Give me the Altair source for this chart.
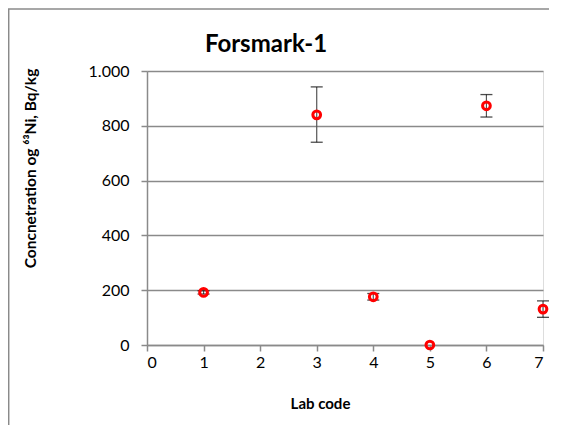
import altair as alt
import pandas as pd

labs = [1, 3, 4, 5, 6, 7]
values = [192, 840, 176, 0, 873, 131]
err_low = [186, 740, 164, 0, 832, 101]
err_high = [198, 942, 188, 0, 914, 161]

x_ticks = [0, 1, 2, 3, 4, 5, 6, 7]
y_ticks = [0, 200, 400, 600, 800, 1000]

df = pd.DataFrame({"lab": labs, "value": values, "lo": err_low, "hi": err_high})

FONT = "Lato"
GRID = "#8a8a8a"
W, H = 396, 274

xscale = alt.Scale(domain=[0, 7], nice=False, zero=False)
yscale = alt.Scale(domain=[0, 1000], nice=False)

xaxis = alt.Axis(values=x_ticks, format="d", title="Lab code", grid=False, domainColor=GRID,
                 domainWidth=1.5, tickColor=GRID, tickWidth=1.5, tickSize=6,
                 labelFont=FONT, labelFontSize=16, labelColor="black", labelPadding=3,
                 titleFont=FONT, titleFontSize=15, titleFontWeight="bold",
                 titleColor="black", titleX=173, titleY=58, titleAlign="center",
                 titleBaseline="middle")
yaxis = alt.Axis(values=y_ticks, title="Concnetration og ⁶³Ni, Bq/kg",
                 labelExpr="datum.value == 1000 ? '1.000' : datum.label",
                 grid=True, gridColor=GRID, gridWidth=1.5, domainColor=GRID,
                 domainWidth=1.5, tickColor=GRID, tickWidth=1.5, tickSize=6,
                 labelFont=FONT, labelFontSize=16, labelColor="black", labelPadding=12,
                 titleFont=FONT, titleFontSize=15.5, titleFontWeight="bold",
                 titleColor="black", titleX=-117, titleY=97, titleAlign="center",
                 titleBaseline="middle")

base = alt.Chart(df)
one = base.transform_filter("datum.lab == 1")

frame = one.mark_rect(fill=None, stroke=GRID, strokeWidth=1.5, clip=False).encode(
    x=alt.value(-138.3), x2=alt.value(460), y=alt.value(-62), y2=alt.value(460)
)
title = one.mark_text(text="Forsmark-1", font=FONT, fontSize=24, fontWeight="bold",
                      color="black", align="center", baseline="middle", clip=False).encode(
    x=alt.value(119), y=alt.value(-26)
)

axes_layer = base.mark_point(opacity=0).encode(
    x=alt.X("lab:Q", scale=xscale, axis=xaxis),
    y=alt.Y("value:Q", scale=yscale, axis=yaxis),
)

rules = base.mark_rule(color="#555555", strokeWidth=1.2).encode(
    x=alt.X("lab:Q", scale=xscale), y=alt.Y("lo:Q", scale=yscale), y2="hi:Q"
)
cap_lo = base.mark_tick(color="black", orient="horizontal", size=12, thickness=1.3).encode(
    x=alt.X("lab:Q", scale=xscale), y=alt.Y("lo:Q", scale=yscale)
).transform_filter("datum.hi > datum.lo")
cap_hi = base.mark_tick(color="black", orient="horizontal", size=12, thickness=1.3).encode(
    x=alt.X("lab:Q", scale=xscale), y=alt.Y("hi:Q", scale=yscale)
).transform_filter("datum.hi > datum.lo")

points = base.mark_point(shape="circle", filled=False, color="red", stroke="red",
                         strokeWidth=3, size=60, opacity=1).encode(
    x=alt.X("lab:Q", scale=xscale), y=alt.Y("value:Q", scale=yscale)
)

chart = alt.layer(frame, title, axes_layer, rules, cap_lo, cap_hi, points).properties(
    width=W, height=H,
    autosize=alt.AutoSizeParams(type="none"),
    padding={"left": 139, "top": 63, "right": 6, "bottom": 80},
).configure_view(stroke=None).configure(background="white")

chart.save("out.html", embed_options={"renderer": "svg", "actions": False})
